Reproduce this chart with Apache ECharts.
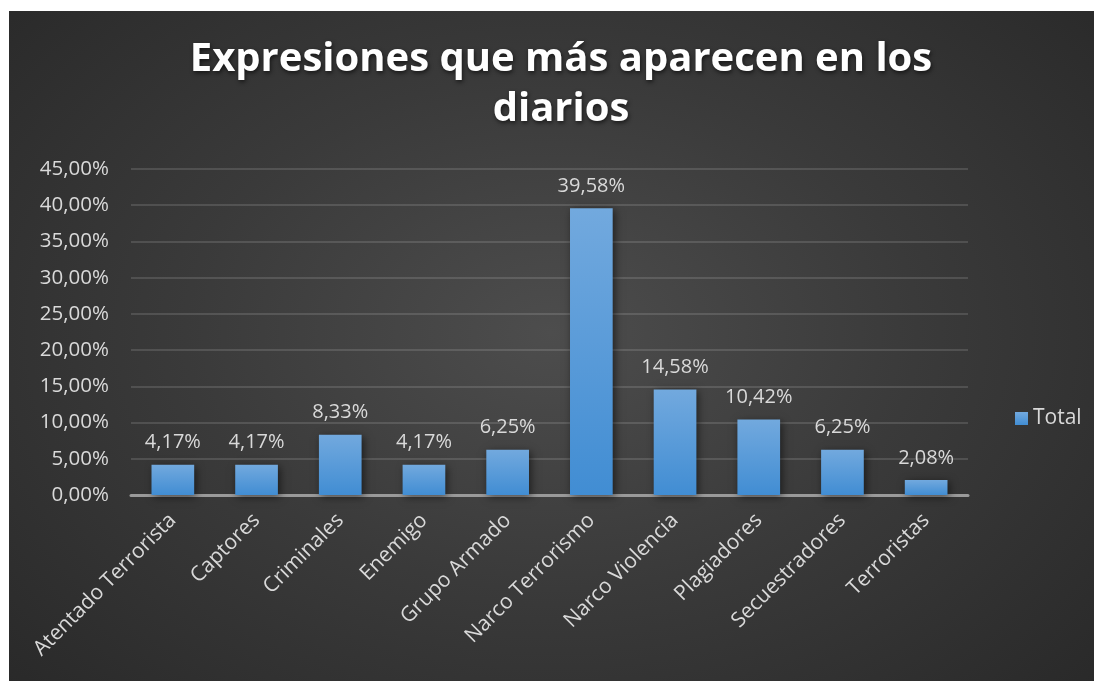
<!DOCTYPE html>
<html>
<head>
<meta charset="utf-8">
<script src="https://cdn.jsdelivr.net/npm/echarts@6/dist/echarts.min.js"></script>
<style>
html,body{margin:0;padding:0;background:#ffffff;width:1094px;height:681px;overflow:hidden;}
#chart{position:absolute;left:9px;top:11px;width:1085px;height:670px;
background:radial-gradient(ellipse 75% 85% at 50% 48%, #4d4d4d 0%, #3a3a3a 45%, #262626 100%);}
</style>
</head>
<body>
<div id="chart"></div>
<script>
const categories = ["Atentado Terrorista","Captores","Criminales","Enemigo","Grupo Armado","Narco Terrorismo","Narco Violencia","Plagiadores","Secuestradores","Terroristas"];
const totalValues = [4.17, 4.17, 8.33, 4.17, 6.25, 39.58, 14.58, 10.42, 6.25, 2.08];
const seriesName = "Total";
const titleText = "Expresiones que más aparecen en los\ndiarios";

const fmt = v => v.toFixed(2).replace('.', ',') + '%';
const chart = echarts.init(document.getElementById('chart'), null, {renderer:'canvas'});
const labelColor = '#d9d9d9';
const fontFam = '"Open Sans", sans-serif';
chart.setOption({
  backgroundColor: 'transparent',
  animation: false,
  title: {
    text: titleText,
    left: 547, textAlign: 'center',
    top: 19,
    textStyle: {
      color: '#ffffff', fontFamily: fontFam, fontWeight: 'bold', fontSize: 40, lineHeight: 50,
      textShadowColor: 'rgba(0,0,0,0.6)', textShadowBlur: 4, textShadowOffsetX: 1, textShadowOffsetY: 2
    }
  },
  legend: {
    data: [seriesName],
    left: 1001, top: 392,
    icon: 'rect', itemWidth: 13, itemHeight: 13, itemGap: 6,
    textStyle: {color: labelColor, fontFamily: fontFam, fontSize: 21}
  },
  grid: {left: 122, right: 126, top: 158, bottom: 186, containLabel: false},
  xAxis: {
    type: 'category',
    data: categories,
    axisLine: {show: true, lineStyle: {color: '#9a9a9a', width: 3}},
    axisTick: {show: false},
    axisLabel: {color: labelColor, fontFamily: fontFam, fontSize: 21, rotate: 45, interval: 0, margin: 22}
  },
  yAxis: {
    type: 'value',
    min: 0, max: 45, interval: 5,
    axisLine: {show: false},
    axisTick: {show: false},
    splitLine: {lineStyle: {color: 'rgba(255,255,255,0.13)', width: 2}},
    axisLabel: {color: labelColor, fontFamily: fontFam, fontSize: 20.5, margin: 22, formatter: fmt}
  },
  series: [{
    name: seriesName,
    type: 'bar',
    data: totalValues,
    barWidth: '51%',
    itemStyle: {
      color: new echarts.graphic.LinearGradient(0, 0, 0, 1, [
        {offset: 0, color: '#72a9de'},
        {offset: 1, color: '#418dd3'}
      ]),
      shadowColor: 'rgba(0,0,0,0.55)', shadowBlur: 8, shadowOffsetX: 2, shadowOffsetY: 2
    },
    label: {
      show: true, position: 'top', distance: 12,
      color: labelColor, fontFamily: fontFam, fontSize: 20,
      formatter: p => fmt(p.value)
    }
  }]
});
</script>
</body>
</html>
